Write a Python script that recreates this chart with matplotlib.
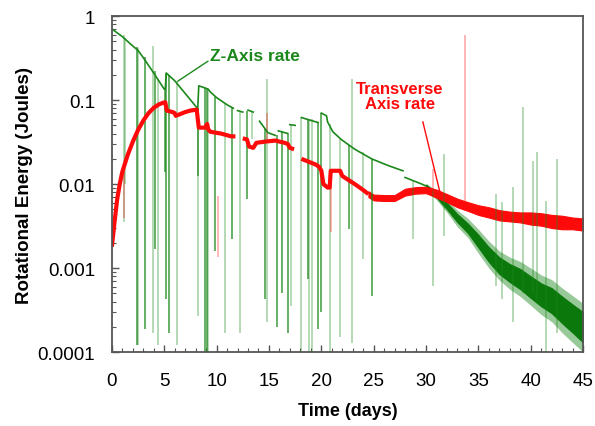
import numpy as np
import matplotlib
matplotlib.use("Agg")
import matplotlib.pyplot as plt
from matplotlib.ticker import MultipleLocator, LogLocator, NullFormatter

plt.rcParams['font.family'] = ['Liberation Sans', 'DejaVu Sans']

# --- Z-axis rate: clean part of the curve (nan = gap) ---
z_days = [0.0, 0.3, 1.0, 2.0, 2.5, 3.0, 4.0, 5.0, 5.1, 5.2, 6.0, 7.0, 8.2, 8.3,
          9.0, 9.2, 9.4, 10.0, 11.0, 11.6, 11.8, 12.0, 12.5, 12.7, 13.0, 13.5, 13.8,
          14.1, 14.9, 15.6, 15.7, 15.9, 16.8, 16.9, 17.0, 17.5, 17.8,
          18.1, 19.7, 19.8, 20.0, 20.5, 20.6, 21.1, 21.9, 23.2, 24.8, 26.4, 27.8,
          27.9, 28.0, 29.6, 30.0]
z_vals = [0.70, 0.66, 0.57, 0.44, 0.39, 0.32, 0.21, 0.135, 0.135, 0.21, 0.17, 0.12, 0.079, 0.148,
          0.138, 0.135, 0.125, 0.107, 0.088, 0.080, np.nan, 0.075, 0.072, np.nan, 0.076, 0.072, np.nan,
          0.056, 0.041, 0.038, np.nan, 0.043, 0.040, np.nan, 0.051, 0.050, np.nan,
          0.062, 0.054, np.nan, 0.070, 0.065, 0.055, 0.042, 0.034, 0.026, 0.020, 0.0166, 0.0144,
          np.nan, 0.012, 0.010, 0.0095]

# noisy tail of the Z-axis rate: dense core and hairy outer envelope
z_band_days = [30, 31, 32, 33, 34, 35, 36, 37, 38, 39, 40, 41, 42, 43, 44, 45]
z_band_hi = [0.0099, 0.0079, 0.0060, 0.0044, 0.0034, 0.0025, 0.00178, 0.00135,
             0.00112, 0.00098, 0.0008, 0.00066, 0.00058, 0.00046, 0.00037, 0.0003]
z_band_lo = [0.0091, 0.0069, 0.0050, 0.0035, 0.0026, 0.00175, 0.00118, 0.00085,
             0.00068, 0.00056, 0.00044, 0.00035, 0.00029, 0.00022, 0.00017, 0.00013]
z_hair_hi = [0.0102, 0.0083, 0.0065, 0.0049, 0.0039, 0.0029, 0.0021, 0.0016,
             0.00135, 0.0012, 0.001, 0.00083, 0.00073, 0.00058, 0.00047, 0.00038]
z_hair_lo = [0.0088, 0.0065, 0.0046, 0.0031, 0.0023, 0.0015, 0.001, 0.00072,
             0.00056, 0.00046, 0.00036, 0.00028, 0.00023, 0.00017, 0.00013, 0.0001]

# glitches in the Z-axis record: day, top, bottom, strong
spike_days = [1.15, 1.3, 2.36, 2.45, 3.15, 3.95, 4.1, 4.43, 5.06, 5.2, 5.47, 6.18, 8.25, 8.27,
              8.9, 9.1, 9.2, 9.84, 10.8, 11.43, 12.2, 12.86, 13.34, 14.6, 14.83, 15.73,
              16.2, 16.84, 17.07, 18.1, 18.75, 18.8, 19.07, 19.7, 20.0, 20.8, 21.8, 22.6,
              22.9, 24.0, 24.8, 28.8, 30.7, 31.7, 36.7, 37.3, 38.3, 39.3, 40.25, 40.6,
              41.5, 42.5]
spike_top = [0.6, 0.55, 0.43, 0.42, 0.33, 0.44, 0.22, 0.18, 0.135, 0.21, 0.2, 0.17, 0.08, 0.08,
             0.14, 0.135, 0.135, 0.11, 0.09, 0.08, 0.075, 0.075, 0.072, 0.045, 0.178, 0.038,
             0.043, 0.040, 0.051, 0.062, 0.06, 0.06, 0.06, 0.054, 0.070, 0.052, 0.034, 0.029,
             0.178, 0.024, 0.020, 0.011, 0.0087, 0.0227, 0.0076, 0.0061, 0.0092, 0.083, 0.019,
             0.024, 0.0063, 0.02]
spike_bot = [0.0035, 0.01, 0.00012, 0.00012, 0.00019, 0.00017, 0.0017, 0.00012, 0.0138, 0.00043,
             0.00017, 0.00012, 0.0125, 0.00027, 0.00009, 0.00009, 0.00009, 0.0016, 0.00017,
             0.0022, 0.00017, 0.0066, 0.034, 0.00043, 0.00023, 0.0002, 0.0005, 0.00017,
             0.00035, 0.00009, 0.00074, 0.00009, 0.00009, 0.00019, 0.0003, 0.00009, 0.00015,
             0.0029, 0.00013, 0.0013, 0.00047, 0.0022, 0.00061, 0.0024, 0.00061, 0.00043,
             0.00023, 0.0005, 0.0005, 0.00043, 0.00008, 0.00017]
spike_strong = [0, 0, 1, 0, 1, 0, 1, 0, 1, 1, 1, 0, 1, 0,
                1, 1, 0, 1, 0, 1, 0, 1, 0, 1, 0, 1,
                1, 1, 0, 0, 1, 0, 0, 1, 1, 0, 0, 1,
                0, 0, 1, 0, 0, 0, 0, 0, 0, 0, 0, 0,
                0, 0]

# --- Transverse axis rate ---
t_days = [0.0, 0.25, 0.5, 0.75, 1.0, 1.5, 2.0, 2.5, 3.0, 3.5, 4.0, 4.5, 5.0, 5.1,
          5.25, 5.8, 6.0, 6.1, 6.5, 7.0, 7.5, 8.1, 8.3, 8.9, 9.1, 9.2, 9.4, 10.4, 11.4, 11.8,
          12.1, 12.5, 12.9, 13.1, 13.5, 13.8, 14.6, 15.6, 16.5, 16.8, 17.0, 17.4,
          17.7, 18.1, 19.5, 19.8, 20.0, 20.2, 20.6, 20.8, 20.9, 21.8, 22.0, 23.2, 24.0, 24.5]
t_vals = [0.0018, 0.0035, 0.0065, 0.010, 0.014, 0.022, 0.032, 0.044, 0.057, 0.070, 0.081, 0.089, 0.094, 0.094,
          0.075, 0.072, 0.070, 0.065, 0.068, 0.072, 0.075, 0.077, 0.047, 0.047, 0.052, 0.045, 0.042, 0.040, 0.037, 0.037,
          np.nan, 0.035, 0.034, 0.028, 0.027, 0.031, 0.032, 0.033, 0.031, 0.030, 0.027, 0.026,
          np.nan, 0.020, 0.017, 0.016, 0.0145, 0.010, 0.0091, 0.0091, 0.0144, 0.0144, 0.0125, 0.010, 0.0085, 0.0076]

t_band_days = [24.5, 25, 26, 27, 28, 29, 30, 31, 32, 33, 34, 35, 36, 37, 38, 39, 40, 41, 42, 43, 44, 45]
t_band_hi = [0.0082, 0.0075, 0.0074, 0.0074, 0.0088, 0.0092, 0.0093, 0.0086, 0.0076, 0.0067, 0.0061,
             0.0056, 0.0053, 0.0049, 0.0047, 0.0046, 0.0046, 0.0045, 0.0043, 0.0042, 0.0040, 0.0039]
t_band_lo = [0.0070, 0.0064, 0.0063, 0.0063, 0.0073, 0.0077, 0.0078, 0.0069, 0.0061, 0.0053, 0.0048,
             0.0043, 0.0040, 0.0037, 0.0036, 0.0035, 0.0033, 0.0032, 0.0030, 0.0029, 0.0029, 0.0028]

# faint glitches in the transverse record: day, top, bottom
t_spike_days = [1.2, 10.1, 14.8, 20.9, 30.7, 33.7]
t_spike_top = [0.015, 0.0072, 0.07, 0.0095, 0.015, 0.6]
t_spike_bot = [0.004, 0.00135, 0.032, 0.0027, 0.008, 0.0055]

GREEN = '#1c881c'
GREEN_DARK = '#0a780a'
RED = '#ff0a0a'

fig = plt.figure(figsize=(5.95, 4.27), dpi=100)
ax = fig.add_axes([0.188, 0.173, 0.792, 0.787])
ax.set_yscale('log')

# spikes first, so curves sit on top
for d, top, bot, strong in zip(spike_days, spike_top, spike_bot, spike_strong):
    if strong:
        ax.vlines(d, bot, top, color=GREEN, alpha=0.85, lw=1.1)
    else:
        ax.vlines(d, bot, top, color=GREEN, alpha=0.35, lw=1.3)
for d, top, bot in zip(t_spike_days, t_spike_top, t_spike_bot):
    ax.vlines(d, bot, top, color=RED, alpha=0.35, lw=1.2)

ax.plot(z_days, z_vals, color=GREEN, lw=1.2)
ax.fill_between(z_band_days, z_hair_lo, z_hair_hi, color=GREEN, alpha=0.45, lw=0)
ax.fill_between(z_band_days, z_band_lo, z_band_hi, color=GREEN_DARK, lw=0.6, ec=GREEN_DARK)

ax.plot(t_days, t_vals, color=RED, lw=3.0, solid_capstyle='butt')
ax.fill_between(t_band_days, t_band_lo, t_band_hi, color=RED, lw=0.8, ec=RED)

# labels with pointer lines
ax.text(13.66, 0.34, 'Z-Axis rate', color=GREEN, fontsize=12.5, fontweight='bold',
        ha='center', va='center')
ax.plot([9.17, 6.3], [0.29, 0.168], color=GREEN, lw=1.0)
ax.text(27.5, 0.112, 'Transverse\nAxis rate', color=RED, fontsize=12, fontweight='bold',
        ha='center', va='center', linespacing=1.05)
ax.plot([29.7, 31.33], [0.055, 0.008], color=RED, lw=1.0)

ax.set_xlim(0, 45)
ax.set_ylim(1e-4, 1)
ax.xaxis.set_major_locator(MultipleLocator(5))
ax.xaxis.set_minor_locator(MultipleLocator(1))
ax.set_yticks([1e-4, 1e-3, 1e-2, 0.1, 1])
ax.set_yticklabels(['0.0001', '0.001', '0.01', '0.1', '1'])
ax.yaxis.set_minor_locator(LogLocator(base=10, subs=np.arange(2, 10)))
ax.yaxis.set_minor_formatter(NullFormatter())
ax.tick_params(which='both', direction='in', colors='#555555', labelcolor='black',
               labelsize=13.5)
ax.tick_params(which='major', length=5, width=1.0)
ax.tick_params(axis='x', which='major', pad=14)
ax.tick_params(axis='y', which='major', pad=12)
ax.tick_params(which='minor', length=3, width=0.8)
for s in ax.spines.values():
    s.set_color('#555555')
    s.set_linewidth(1.3)

ax.set_xlabel('Time (days)', fontsize=13, fontweight='bold', labelpad=10)
ax.set_ylabel('Rotational Energy (Joules)', fontsize=13.5, fontweight='bold', labelpad=3)

fig.savefig('out.png', dpi=100)
